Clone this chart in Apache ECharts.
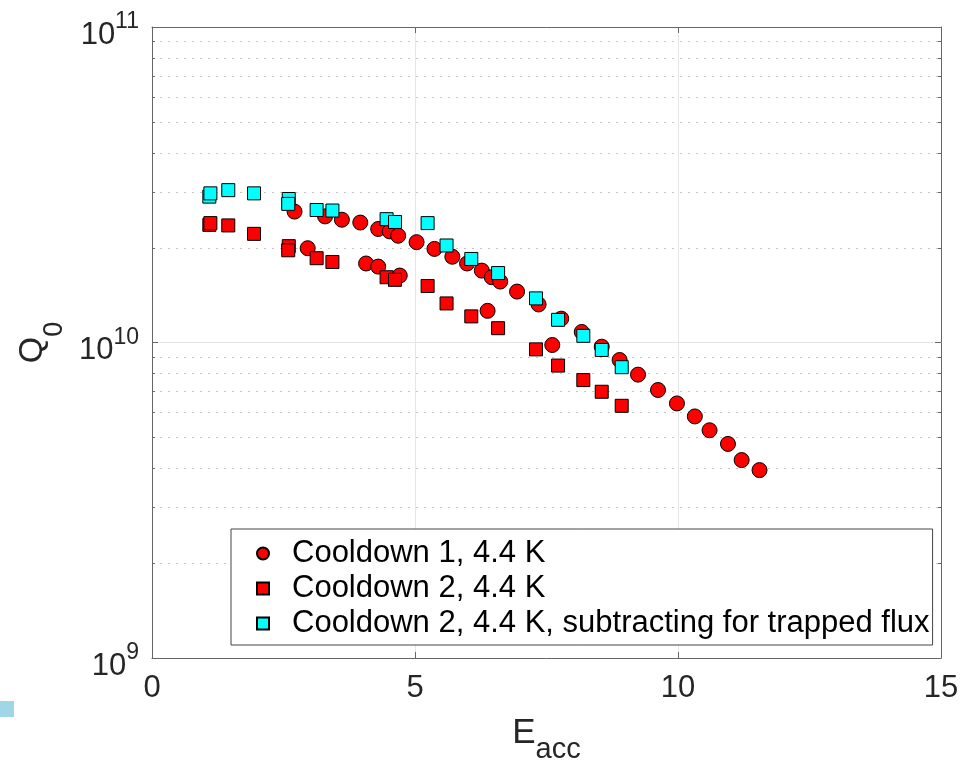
<!DOCTYPE html>
<html>
<head>
<meta charset="utf-8">
<script src="https://cdn.jsdelivr.net/npm/echarts@6/dist/echarts.min.js"></script>
<style>
html,body{margin:0;padding:0;background:#fff;}
#c{width:973px;height:764px;}
</style>
</head>
<body>
<div id="c"></div>
<script>
// Cooldown 1, 4.4 K
const eacc1 = [2.71, 3.29, 3.61, 3.96, 4.30, 4.52, 4.68, 5.03, 5.37, 5.71, 5.99, 6.27, 6.46, 6.62, 6.94, 7.35, 7.78, 8.17, 8.55, 8.89, 9.24, 9.62, 9.98, 10.32, 10.60, 10.95, 11.21, 11.55, 2.96, 4.07, 4.30, 4.71, 6.38, 7.61];
const q1 = [2.60e10, 2.51e10, 2.45e10, 2.40e10, 2.29e10, 2.25e10, 2.18e10, 2.08e10, 1.98e10, 1.87e10, 1.78e10, 1.69e10, 1.61e10, 1.56e10, 1.45e10, 1.32e10, 1.19e10, 1.08e10, 9.70e9, 8.80e9, 7.91e9, 7.07e9, 6.41e9, 5.83e9, 5.27e9, 4.77e9, 4.24e9, 3.94e9, 1.99e10, 1.78e10, 1.74e10, 1.63e10, 1.26e10, 9.82e9];
// Cooldown 2, 4.4 K
const eacc2 = [1.09, 1.11, 1.45, 1.94, 2.60, 2.59, 3.13, 3.43, 4.46, 4.62, 5.24, 5.60, 6.07, 6.58, 7.30, 7.72, 8.20, 8.55, 8.93];
const q2 = [2.36e10, 2.39e10, 2.35e10, 2.21e10, 2.02e10, 1.96e10, 1.85e10, 1.80e10, 1.61e10, 1.58e10, 1.51e10, 1.33e10, 1.21e10, 1.11e10, 9.51e9, 8.45e9, 7.60e9, 6.98e9, 6.30e9];
// Cooldown 2, 4.4 K, subtracting for trapped flux
const q2corr = [2.90e10, 2.97e10, 3.04e10, 2.97e10, 2.85e10, 2.75e10, 2.63e10, 2.62e10, 2.46e10, 2.41e10, 2.39e10, 2.03e10, 1.84e10, 1.66e10, 1.38e10, 1.18e10, 1.05e10, 9.47e9, 8.35e9];

const seriesNames = ['Cooldown 1, 4.4 K', 'Cooldown 2, 4.4 K', 'Cooldown 2, 4.4 K, subtracting for trapped flux'];
const xTicks = [0, 5, 10, 15];
const yTicks = [1e9, 1e10, 1e11];
const minorY = [2e9,3e9,4e9,5e9,6e9,7e9,8e9,9e9,2e10,3e10,4e10,5e10,6e10,7e10,8e10,9e10];

const FONT = 'Liberation Sans';
const zip = (xs, ys) => xs.map((x, i) => [x, ys[i]]);

const chart = echarts.init(document.getElementById('c'));

const option = {
  backgroundColor: '#fff',
  animation: false,
  textStyle: { fontFamily: FONT },
  grid: { left: 152, right: 32, top: 27, bottom: 106, containLabel: false, outerBoundsMode: 'none' },
  xAxis: [{
    type: 'value', min: xTicks[0], max: xTicks[xTicks.length - 1], interval: 5,
    position: 'bottom',
    axisLine: { show: true, lineStyle: { color: '#666', width: 1 } },
    axisTick: { show: true, inside: true, length: 6, lineStyle: { color: '#666' } },
    axisLabel: { color: '#262626', fontSize: 31, margin: 15, fontFamily: FONT },
    splitLine: { show: true, lineStyle: { color: '#e6e6e6', width: 1 } },
    name: '{e|E}{sub|acc}',
    nameLocation: 'middle',
    nameGap: 44,
    nameTextStyle: {
      color: '#262626',
      rich: {
        e: { fontSize: 35, lineHeight: 62, fontFamily: FONT, color: '#262626' },
        sub: { fontSize: 29, lineHeight: 13, verticalAlign: 'bottom', fontFamily: FONT, color: '#262626' }
      }
    }
  }, {
    type: 'value', min: 0, max: 15, interval: 5, position: 'top',
    axisLine: { show: true, onZero: false, lineStyle: { color: '#666', width: 1 } },
    axisTick: { show: true, inside: true, length: 6, lineStyle: { color: '#666' } },
    axisLabel: { show: false }, splitLine: { show: false }
  }],
  yAxis: [{
    type: 'log', logBase: 10, min: yTicks[0], max: yTicks[yTicks.length - 1],
    position: 'left',
    axisLine: { show: true, lineStyle: { color: '#666', width: 1 } },
    axisTick: { show: true, inside: true, length: 6, lineStyle: { color: '#666' } },
    axisLabel: {
      margin: 13,
      padding: [16, 0, 0, 0],
      formatter: v => '{b|10}{s|' + Math.round(Math.log10(v)) + '}',
      rich: {
        b: { fontSize: 31, lineHeight: 49, color: '#262626', fontFamily: FONT },
        s: { fontSize: 23, lineHeight: 13, verticalAlign: 'top', color: '#262626', fontFamily: FONT }
      }
    },
    splitLine: { show: true, lineStyle: { color: '#e6e6e6', width: 1 } },
    name: '{q|Q}{sub|0}',
    nameLocation: 'middle',
    nameGap: 84,
    nameTextStyle: {
      rich: {
        q: { fontSize: 34, lineHeight: 70, fontFamily: FONT, color: '#262626' },
        sub: { fontSize: 27, lineHeight: 9, verticalAlign: 'bottom', fontFamily: FONT, color: '#262626' }
      }
    }
  }, {
    type: 'log', logBase: 10, min: 1e9, max: 1e11, position: 'right',
    axisLine: { show: true, onZero: false, lineStyle: { color: '#666', width: 1 } },
    axisTick: { show: true, inside: true, length: 6, lineStyle: { color: '#666' } },
    axisLabel: { show: false }, splitLine: { show: false }
  }],
  legend: {
    orient: 'vertical',
    left: 231, top: 529,
    padding: [9, 3, 6, 25],
    itemGap: 4,
    itemWidth: 12, itemHeight: 12,
    backgroundColor: '#fff',
    borderColor: '#444', borderWidth: 1, borderRadius: 0,
    textStyle: { fontSize: 31, color: '#000', fontFamily: FONT, padding: [0, 0, 0, 18] },
    data: [
      { name: seriesNames[0], icon: 'circle' },
      { name: seriesNames[1], icon: 'rect' },
      { name: seriesNames[2], icon: 'rect' }
    ]
  },
  graphic: [{
    type: 'rect', left: 0, top: 701, shape: { width: 14, height: 16 },
    style: { fill: '#a0d6e8' }, silent: true
  }],
  series: [{
    type: 'custom',
    name: 'minorGrid',
    silent: true,
    z: 1,
    data: minorY.map(v => [0, v]),
    renderItem: (params, api) => {
      const v = api.value(1);
      const l = api.coord([0, v]);
      const r = api.coord([15, v]);
      const y = Math.round(l[1]) + 0.5;
      return {
        type: 'group',
        children: [
          { type: 'line', shape: { x1: l[0], y1: y, x2: r[0], y2: y }, style: { stroke: '#c4c4c4', lineWidth: 1, lineDash: [2, 6] } },
          { type: 'line', shape: { x1: l[0], y1: y, x2: l[0] + 3, y2: y }, style: { stroke: '#666', lineWidth: 1 } },
          { type: 'line', shape: { x1: r[0] - 3, y1: y, x2: r[0], y2: y }, style: { stroke: '#666', lineWidth: 1 } }
        ]
      };
    }
  }, {
    type: 'scatter', name: seriesNames[0], z: 3,
    symbol: 'circle', symbolSize: 15,
    itemStyle: { color: '#ff0000', borderColor: '#000', borderWidth: 1, opacity: 1 },
    data: zip(eacc1, q1)
  }, {
    type: 'scatter', name: seriesNames[1], z: 4,
    symbol: 'rect', symbolSize: 13,
    itemStyle: { color: '#ff0000', borderColor: '#000', borderWidth: 1, opacity: 1 },
    data: zip(eacc2, q2)
  }, {
    type: 'scatter', name: seriesNames[2], z: 5,
    symbol: 'rect', symbolSize: 13,
    itemStyle: { color: '#00ffff', borderColor: '#000', borderWidth: 1, opacity: 1 },
    data: zip(eacc2, q2corr)
  }]
};
chart.setOption(option);
</script>
</body>
</html>
